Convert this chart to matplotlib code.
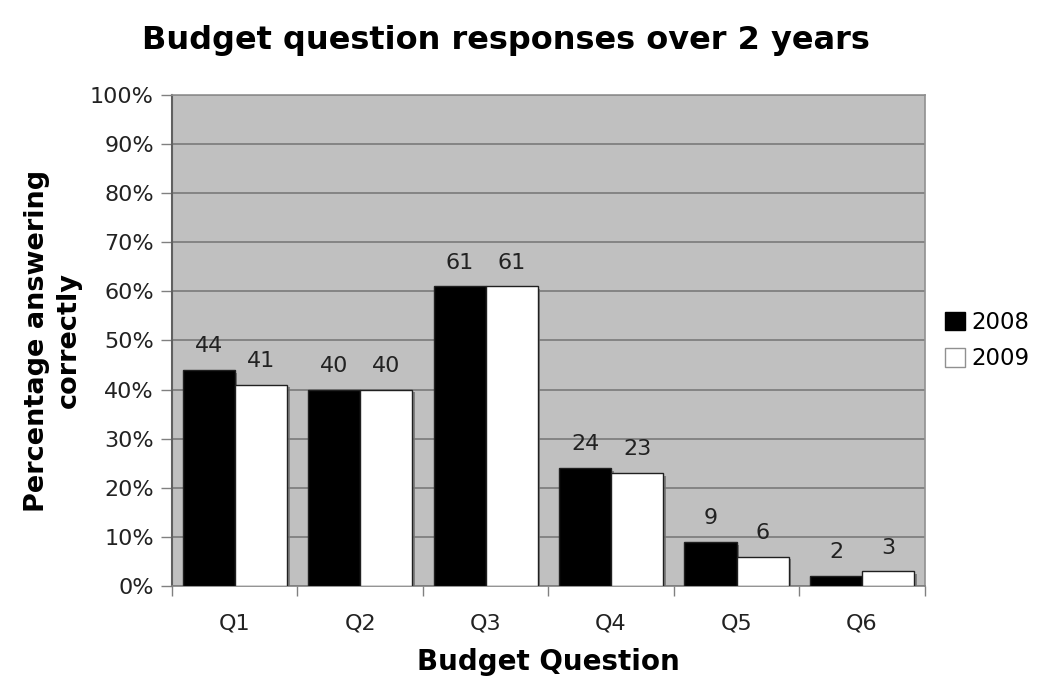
import matplotlib.pyplot as plt
import numpy as np
import matplotlib.patheffects as pe
from matplotlib.patches import Patch

questions = ["Q1", "Q2", "Q3", "Q4", "Q5", "Q6"]
pct_2008 = [44, 40, 61, 24, 9, 2]
pct_2009 = [41, 40, 61, 23, 6, 3]

plt.rcParams['font.family'] = ['DejaVu Sans']

fig = plt.figure(figsize=(10.39, 6.83), dpi=100)
ax = fig.add_axes([0.1655, 0.142, 0.7245, 0.719])
ax.set_facecolor('#c0c0c0')

x = np.arange(len(questions))
w = 0.415
shadow = [pe.SimplePatchShadow(offset=(2, -2), shadow_rgbFace='#707070', alpha=0.8), pe.Normal()]
b1 = ax.bar(x - w / 2, pct_2008, w, color='black', edgecolor='#202020', linewidth=1,
            zorder=3, path_effects=shadow)
b2 = ax.bar(x + w / 2, pct_2009, w, color='white', edgecolor='#202020', linewidth=1,
            zorder=3, path_effects=shadow)

for bars, vals in ((b1, pct_2008), (b2, pct_2009)):
    for rect, v in zip(bars, vals):
        ax.text(rect.get_x() + rect.get_width() / 2, v + 2.8, str(v),
                ha='center', va='bottom', fontsize=16, color='#222222')

ax.set_xlim(-0.5, len(questions) - 0.5)
ax.set_ylim(0, 100)
ax.set_yticks(np.arange(0, 101, 10))
ax.set_yticklabels(["%d%%" % v for v in range(0, 101, 10)])
ax.yaxis.grid(True, color='#7a7a7a', linewidth=1.2, zorder=0)
ax.set_axisbelow(True)

ax.set_xticks(x)
ax.set_xticklabels(questions)
ax.set_xticks(np.arange(-0.5, len(questions)), minor=True)
ax.tick_params(axis='x', which='major', length=0, pad=20, labelsize=16, labelcolor='#222222')
ax.tick_params(axis='x', which='minor', length=7, color='#808080', width=1)
ax.tick_params(axis='y', length=8, color='#808080', width=1, labelsize=16, pad=5,
               labelcolor='#222222')

for s in ['top', 'right']:
    ax.spines[s].set_color('#909090')
    ax.spines[s].set_linewidth(1.2)
ax.spines['left'].set_color('#606060')
ax.spines['left'].set_linewidth(1.5)
ax.spines['bottom'].set_color('#808080')
ax.spines['bottom'].set_linewidth(1.2)

ax.set_xlabel("Budget Question", fontsize=20, fontweight='bold', labelpad=10)
ax.set_ylabel("Percentage answering\ncorrectly", fontsize=19.5, fontweight='bold', labelpad=6,
              linespacing=1.3)
fig.text(0.487, 0.941, "Budget question responses over 2 years", fontsize=23, fontweight='bold',
         ha='center', va='center')

handles = [Patch(facecolor='black', edgecolor='black', label='2008'),
           Patch(facecolor='white', edgecolor='#909090', label='2009')]
ax.legend(handles=handles, loc='center left', bbox_to_anchor=(1.0, 0.5), frameon=False,
          fontsize=16.5, handlelength=0.85, handleheight=0.85, handletextpad=0.3,
          labelspacing=0.6)

fig.savefig("out.png", dpi=100)
